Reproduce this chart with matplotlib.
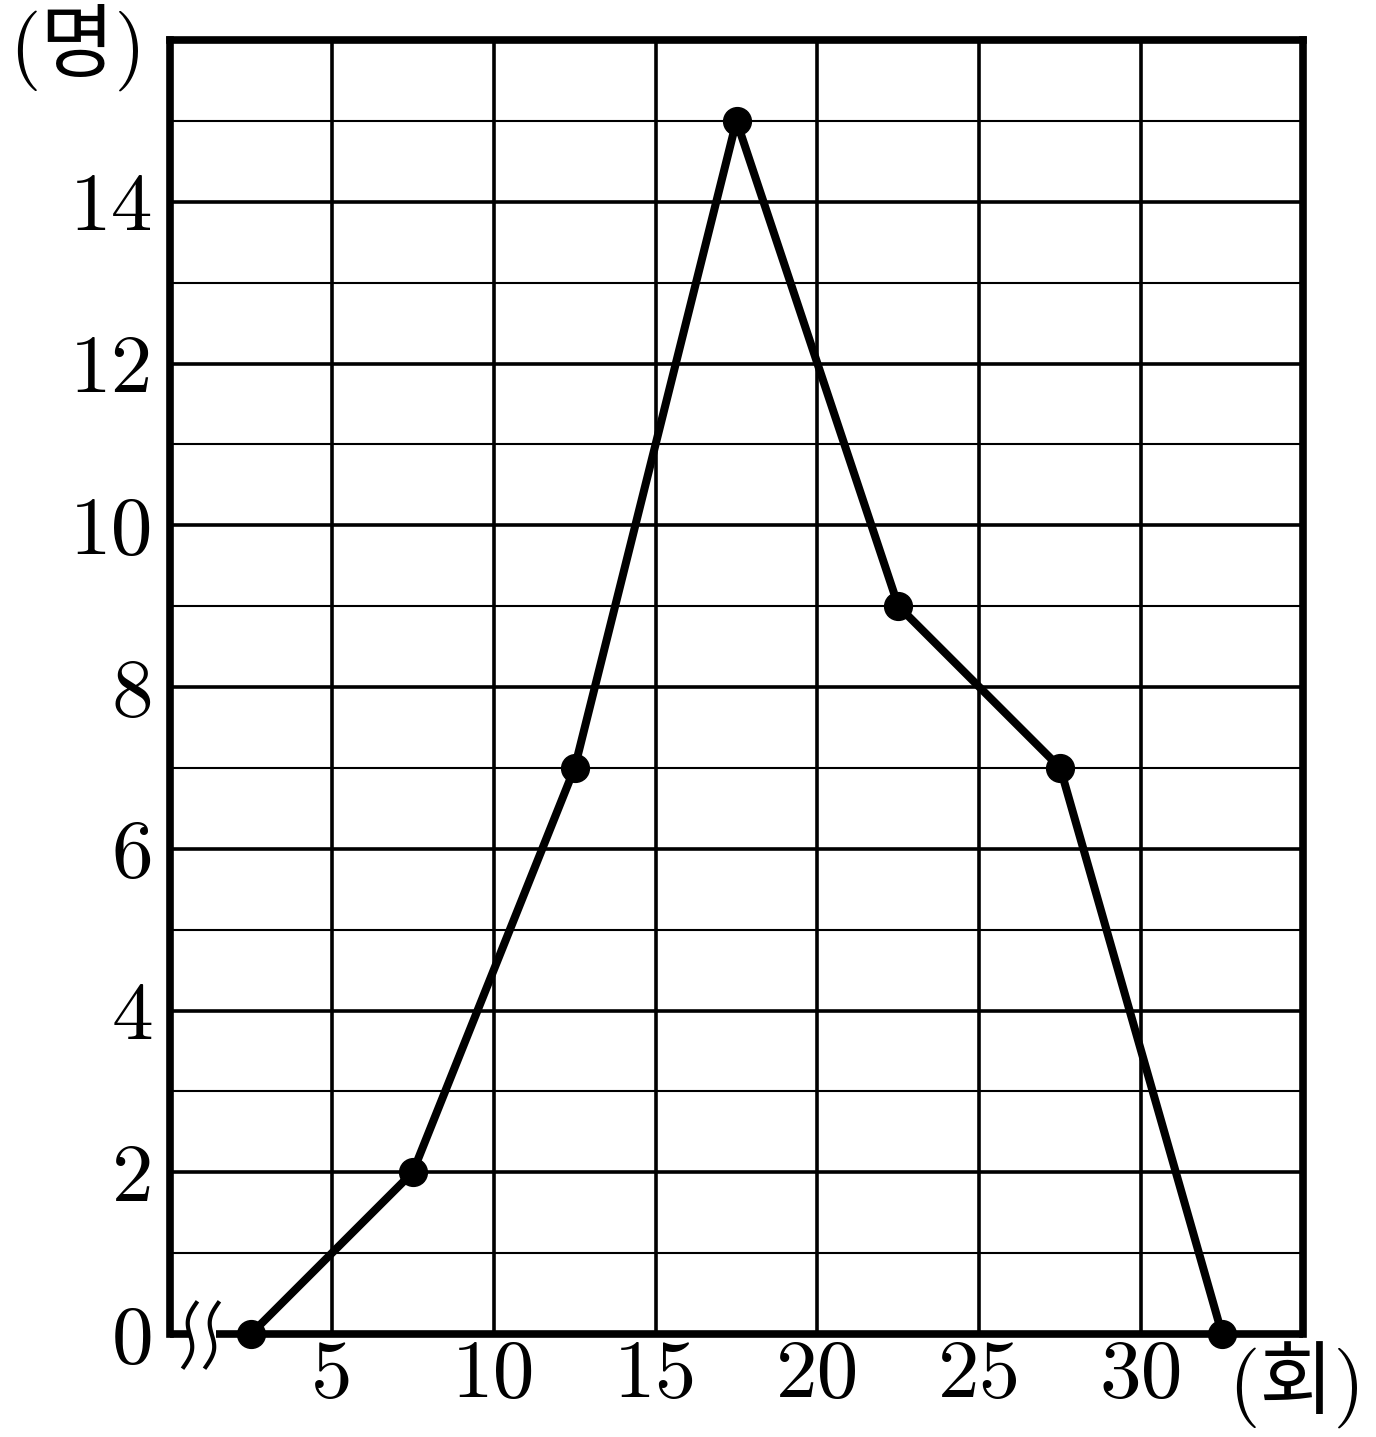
import matplotlib
matplotlib.use("Agg")
import matplotlib.pyplot as plt
import numpy as np

# 계급값(회)과 도수(명)
classMarks = [2.5, 7.5, 12.5, 17.5, 22.5, 27.5, 32.5]
counts = [0, 2, 7, 15, 9, 7, 0]
xTicks = [5, 10, 15, 20, 25, 30]
yTicks = [0, 2, 4, 6, 8, 10, 12, 14]

digitFont = ['cmr10', 'Noto Sans CJK KR']

fig = plt.figure(figsize=(13.76, 14.37), dpi=100)
ax = fig.add_axes([170/1376, 103/1437, 1133/1376, 1294/1437])
ax.set_xlim(0, 35)
ax.set_ylim(0, 16)

# 격자
for v in range(1, 16):
    ax.axhline(v, color='black', lw=2.6 if v % 2 == 0 else 1.5, zorder=1)
for v in xTicks:
    ax.axvline(v, color='black', lw=2.6, zorder=1)

# 테두리 (아래쪽은 물결 표시 때문에 직접 그림)
for side in ['left', 'top', 'right']:
    ax.spines[side].set_linewidth(5.5)
ax.spines['bottom'].set_visible(False)
xpx = 5 / 162
ax.plot([0, 20 * xpx], [0, 0], color='black', lw=5.5, solid_capstyle='butt', clip_on=False, zorder=3)
ax.plot([46 * xpx, 35], [0, 0], color='black', lw=5.5, solid_capstyle='butt', clip_on=False, zorder=3)

# 물결 표시
ypx = 16 / 1294
t = np.linspace(0, 1, 60)
for xc in [20, 42]:
    wx = (xc + 7 * (0.5 - t) * 2 * 0.9 - 5 * np.sin(2 * np.pi * t)) * xpx
    wy = (31 - 64 * t) * ypx
    ax.plot(wx, wy, color='black', lw=3, clip_on=False, zorder=3)

# 도수분포다각형
ax.plot(classMarks, counts, color='black', lw=5.8, zorder=4, clip_on=False)
ax.plot(classMarks, counts, 'o', color='black', markersize=20, zorder=5, clip_on=False)

ax.set_xticks(xTicks)
ax.set_yticks(yTicks)
ax.set_xticklabels([str(v) for v in xTicks], family=digitFont, fontsize=60)
ax.set_yticklabels([str(v) for v in yTicks], family=digitFont, fontsize=60)
ax.tick_params(axis='both', length=0)
ax.tick_params(axis='x', pad=4)
ax.tick_params(axis='y', pad=12)

fig.text(78/1376, 1 - 47/1437, '(명)', family=digitFont, fontsize=58, ha='center', va='center')
fig.text(1297/1376, 1 - 1385/1437, '(회)', family=digitFont, fontsize=58, ha='center', va='center')

plt.savefig('out.png', dpi=100)
